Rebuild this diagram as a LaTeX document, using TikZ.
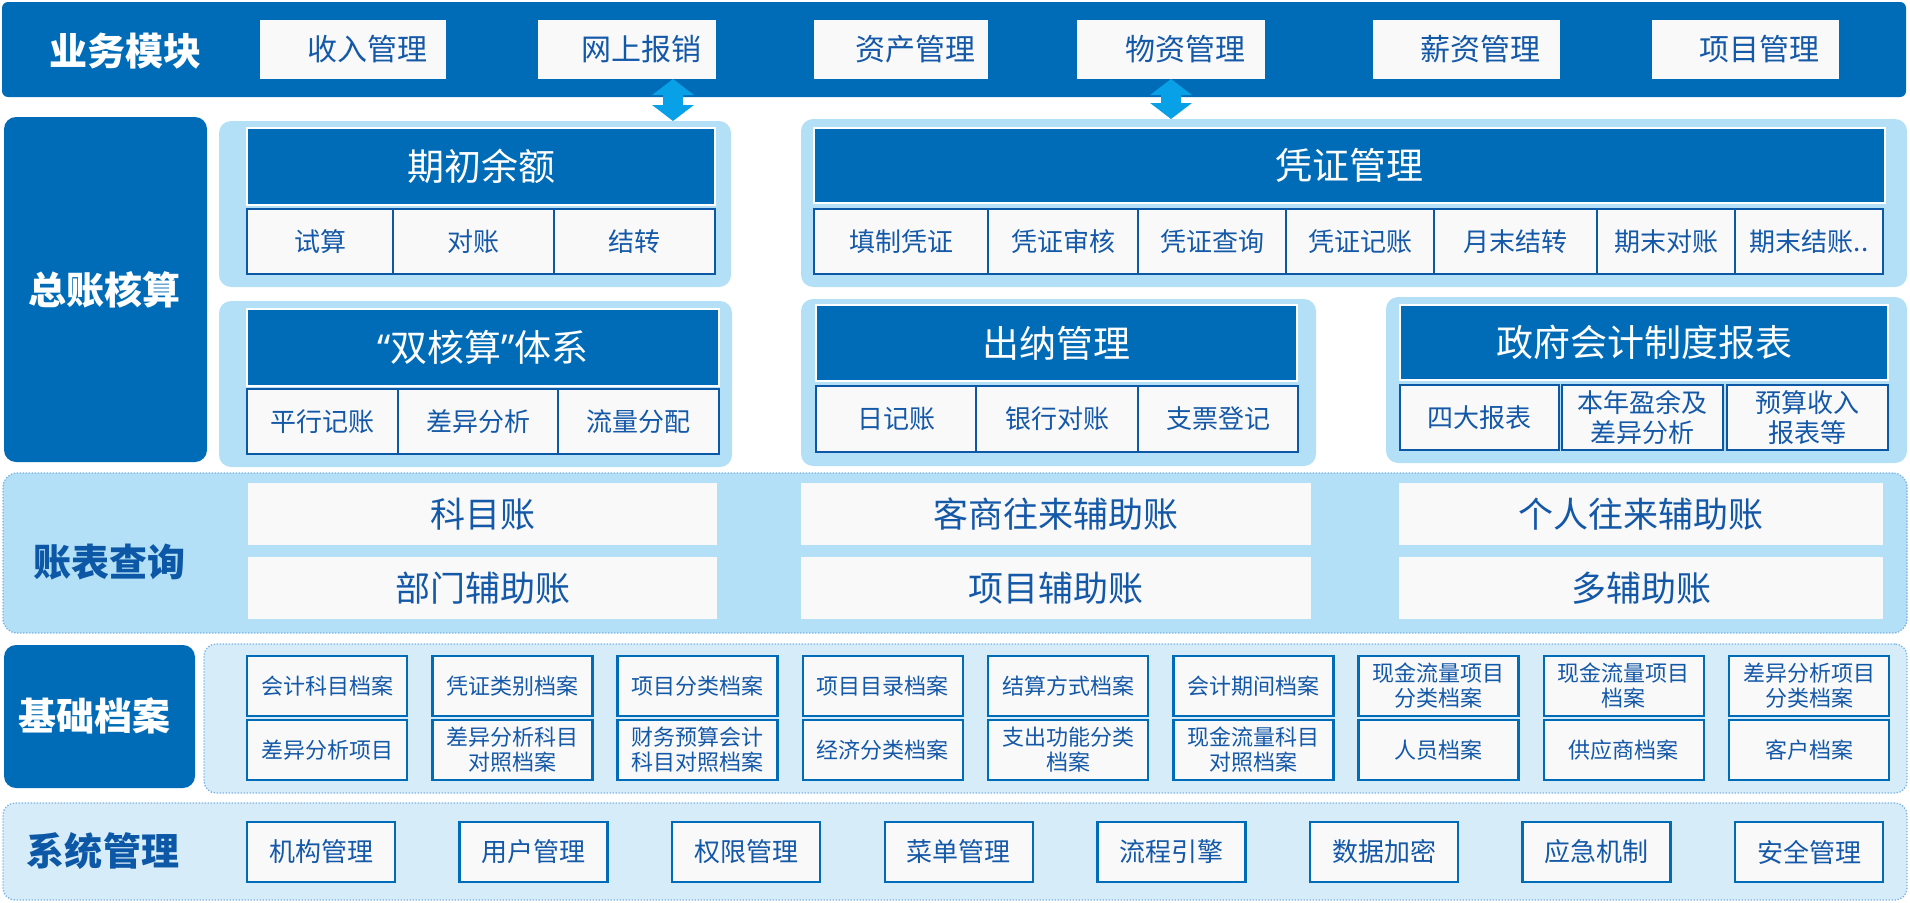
\documentclass[tikz,border=0pt]{standalone}
\usepackage{fontspec}
\setmainfont{Noto Sans CJK SC}
\newfontfamily\latinf{Noto Sans}
\usepackage{tikz}
\usetikzlibrary{positioning,arrows.meta}
\definecolor{dkblue}{RGB}{0,108,183}
\definecolor{pnlblue}{RGB}{179,224,247}
\definecolor{ltblue}{RGB}{215,236,249}
\definecolor{txtblue}{RGB}{20,88,168}
\definecolor{lineblue}{RGB}{12,88,166}
\definecolor{dotblue}{RGB}{120,178,226}
\definecolor{arrblue}{RGB}{8,160,230}
\definecolor{boxwhite}{RGB}{249,249,249}
\tikzset{
  band/.style   ={fill=dkblue, rounded corners=6pt, anchor=north west, inner sep=0pt, outer sep=0pt},
  lbl/.style    ={font=\fontsize{38}{44}\selectfont\bfseries, text=white},
  lbldk/.style  ={lbl, text=lineblue},
  topbox/.style ={fill=boxwhite, text=txtblue, anchor=north west, minimum height=59pt, outer sep=0pt, font=\fontsize{30}{36}\selectfont, execute at begin node={\hspace*{28pt}}},
  pnl/.style    ={fill=pnlblue, rounded corners=12pt, anchor=north west, inner sep=0pt, outer sep=0pt},
  hdr/.style    ={fill=dkblue, draw=white, line width=1.5pt, text=white, anchor=north west, outer sep=0pt, font=\fontsize{37}{44}\selectfont},
  cell/.style   ={fill=boxwhite, draw=lineblue, line width=2pt, text=txtblue, anchor=north west, align=center, inner sep=0pt, outer sep=0pt, font=\fontsize{26}{30}\selectfont},
  qry/.style    ={fill=boxwhite, text=txtblue, anchor=north west, minimum height=62pt, outer sep=0pt, font=\fontsize{35}{40}\selectfont},
  dotpnl/.style ={draw=dotblue, dash pattern=on 1.3pt off 1.7pt, line width=1.3pt, rounded corners=12pt, anchor=north west, inner sep=0pt, outer sep=0pt},
  arch/.style   ={fill=boxwhite, draw=dkblue, line width=2.5pt, text=txtblue, anchor=north west, align=center, minimum width=160pt, minimum height=60pt, inner sep=0pt, outer sep=0pt, font=\fontsize{22}{25}\selectfont},
  sysbox/.style ={arch, minimum width=148pt, font=\fontsize{26}{30}\selectfont},
  dblarr/.style ={arrblue, line width=20pt, {Triangle[width=41pt,length=16pt]}-{Triangle[width=41pt,length=16pt]}},
}

\begin{document}
\begin{tikzpicture}[x=1pt, y=-1pt]
  \useasboundingbox (0,0) rectangle (1910,902);

  % business modules
  \node[band, minimum width=1904pt, minimum height=95pt] (ywband) at (2,2) {};
  \node[lbl] (ywlbl) at (125,51) {业务模块};
  \foreach \x/\w/\t/\n in {260/186/收入管理/srgl, 538/178/网上报销/wsbx, 814/174/资产管理/zcgl, 1077/188/物资管理/wzgl, 1373/187/薪资管理/xzgl, 1652/187/项目管理/xmgl}
    \node[topbox, minimum width=\w pt] (\n) at (\x,20) {\t};

  % general ledger
  \node[band, rounded corners=12pt, minimum width=203pt, minimum height=345pt] (zzband) at (4,117) {};
  \node[lbl] (zzlbl) at (104,290) {总账核算};

  \node[pnl, minimum width=512pt, minimum height=166pt] (pqc) at (219,121) {};
  \node[hdr, minimum width=468pt, minimum height=77pt] (qcye) at (247,128) {期初余额};
  \foreach \x/\w/\t [count=\i] in {247/146/试算, 393/161/对账, 554/161/结转}
    \node[cell, minimum width=\w pt, minimum height=65pt] (qc\i) at (\x,209) {\t};

  \node[pnl, minimum width=1106pt, minimum height=168pt] (ppz) at (801,119) {};
  \node[hdr, minimum width=1071pt, minimum height=75pt] (pzgl) at (814,128) {凭证管理};
  \foreach \x/\w/\t [count=\i] in {814/174/填制凭证, 988/150/凭证审核, 1138/148/凭证查询, 1286/148/凭证记账, 1434/163/月末结转, 1597/138/期末对账, 1735/148/期末结账..}
    \node[cell, minimum width=\w pt, minimum height=65pt] (pz\i) at (\x,209) {\t};

  \node[pnl, minimum width=513pt, minimum height=166pt] (psh) at (219,301) {};
  \node[hdr, minimum width=472pt, minimum height=77pt] (shs) at (247,309) {{\latinf“}双核算{\latinf”}体系};
  \foreach \x/\w/\t [count=\i] in {247/151/平行记账, 398/160/差异分析, 558/161/流量分配}
    \node[cell, minimum width=\w pt, minimum height=65pt] (sh\i) at (\x,389) {\t};

  \node[pnl, minimum width=515pt, minimum height=167pt] (pcn) at (801,299) {};
  \node[hdr, minimum width=481pt, minimum height=76pt] (cngl) at (816,305) {出纳管理};
  \foreach \x/\w/\t [count=\i] in {816/160/日记账, 976/162/银行对账, 1138/160/支票登记}
    \node[cell, minimum width=\w pt, minimum height=66pt] (cn\i) at (\x,386) {\t};

  \node[pnl, minimum width=521pt, minimum height=166pt] (pzf) at (1386,297) {};
  \node[hdr, minimum width=488pt, minimum height=75pt] (zfbb) at (1400,305) {政府会计制度报表};
  \foreach \x/\w/\t [count=\i] in {1400/159/四大报表, 1562/161/本年盈余及\\差异分析, 1727/161/预算收入\\报表等}
    \node[cell, minimum width=\w pt, minimum height=65pt] (zf\i) at (\x,385) {\t};

  % ledger query
  \node[pnl, dotpnl, rounded corners=14pt, minimum width=1904pt, minimum height=160pt] (zbpnl) at (3,473) {};
  \node[lbldk] (zblbl) at (109,562) {账表查询};
  \foreach \x/\w/\t/\u [count=\i] in {248/469/科目账/部门辅助账, 801/510/客商往来辅助账/项目辅助账, 1399/484/个人往来辅助账/多辅助账} {
    \node[qry, minimum width=\w pt] (zbt\i) at (\x,483) {\t};
    \node[qry, minimum width=\w pt] (zbb\i) at (\x,557) {\u};
  }

  % base archives
  \node[band, rounded corners=12pt, minimum width=191pt, minimum height=143pt] (jcband) at (4,645) {};
  \node[lbl] (jclbl) at (94,716) {基础档案};
  \node[dotpnl, fill=ltblue, minimum width=1703pt, minimum height=149pt] (jcpnl) at (204,644) {};
  \foreach \t [count=\i from 0] in {会计科目档案, 凭证类别档案, 项目分类档案, 项目目录档案, 结算方式档案, 会计期间档案, 现金流量项目\\分类档案, 现金流量项目\\档案, 差异分析项目\\分类档案}
    \node[arch] (jt\i) at (247+185.25*\i,656) {\t};
  \foreach \t [count=\i from 0] in {差异分析项目, 差异分析科目\\对照档案, 财务预算会计\\科目对照档案, 经济分类档案, 支出功能分类\\档案, 现金流量科目\\对照档案, 人员档案, 供应商档案, 客户档案}
    \node[arch] (jb\i) at (247+185.25*\i,720) {\t};

  % system management
  \node[dotpnl, fill=ltblue, minimum width=1904pt, minimum height=97pt] (xtpnl) at (3,803) {};
  \node[lbldk] (xtlbl) at (103,851) {系统管理};
  \foreach \t [count=\i from 0] in {机构管理, 用户管理, 权限管理, 菜单管理, 流程引擎, 数据加密, 应急机制, 安全管理}
    \node[sysbox] (xt\i) at (247+212.6*\i,822) {\t};

  % links between modules and ledger
  \draw[dblarr] ([xshift=46pt]wsbx.south) -- ([xshift=46pt]wsbx.south |- pqc.north);
  \draw[dblarr] (wzgl.south) -- (wzgl.south |- ppz.north);
\end{tikzpicture}
\end{document}
